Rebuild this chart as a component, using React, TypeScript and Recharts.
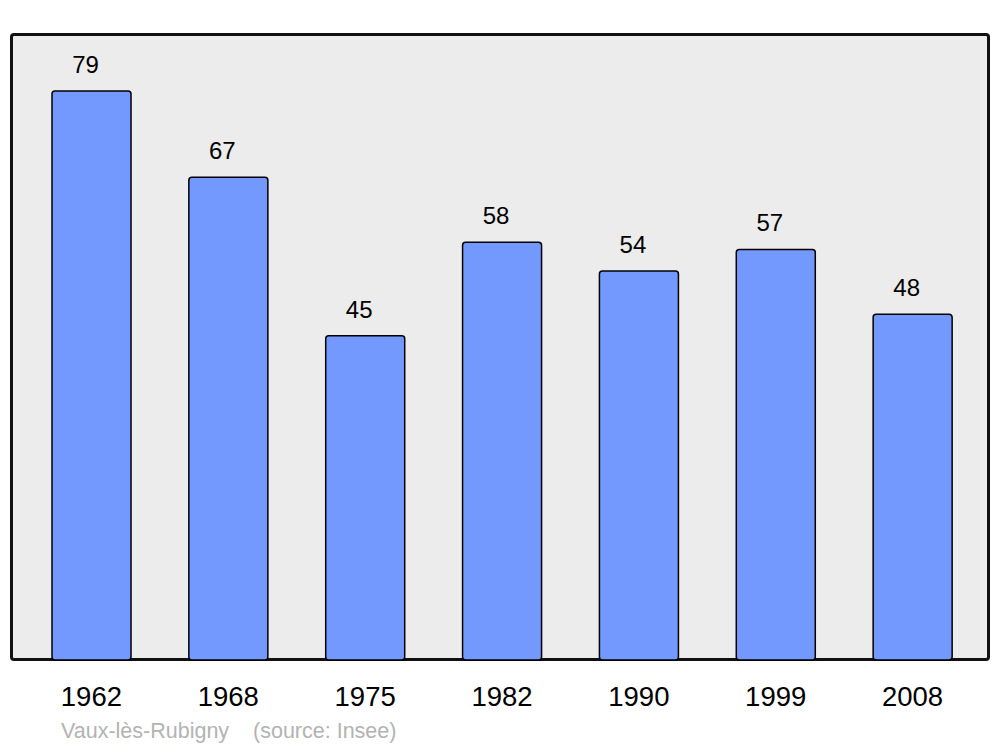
import React from 'react';
import { BarChart, Bar, XAxis, YAxis, LabelList } from 'recharts';

const years = ['1962', '1968', '1975', '1982', '1990', '1999', '2008'];
const population = [79, 67, 45, 58, 54, 57, 48];
const placeName = 'Vaux-lès-Rubigny';
const sourceNote = '(source: Insee)';

const data = years.map((year, i) => ({ year, population: population[i] }));

const FONT = '"Liberation Sans", Arial, sans-serif';

const App: React.FC = () => {
  return (
    <div style={{ position: 'absolute', left: 0, top: 0, width: 1000, height: 747, background: '#fff', fontFamily: FONT }}>
      {/* plot frame */}
      <div
        style={{
          position: 'absolute', left: 10, top: 33, width: 980, height: 628, boxSizing: 'border-box',
          background: '#ececec', border: '3px solid #111', borderRadius: 4,
        }}
      />
      <div style={{ position: 'absolute', left: 0, top: 0 }}>
        <BarChart
          width={1000}
          height={747}
          data={data}
          margin={{ top: 34, right: 11, left: 11, bottom: 57 }}
          barSize={79}
        >
          <XAxis
            dataKey="year"
            height={30}
            axisLine={false}
            tickLine={false}
            padding={{ left: 12, right: 8 }}
            tick={{ fill: '#000', fontSize: 27.5, fontFamily: FONT }}
            tickMargin={20}
          />
          <YAxis hide domain={[0, 86.9]} />
          <Bar
            dataKey="population"
            fill="#7399ff"
            stroke="#000"
            strokeWidth={1.5}
            radius={3}
            isAnimationActive={false}
          >
            <LabelList
              dataKey="population"
              position="top"
              offset={18}
              dx={-6}
              style={{ fill: '#000', fontSize: 24, fontFamily: FONT }}
            />
          </Bar>
        </BarChart>
      </div>
      <div
        style={{
          position: 'absolute', left: 61, top: 721, fontSize: 21.5, lineHeight: '21px',
          color: '#b3b3b3', whiteSpace: 'pre', fontFamily: FONT,
        }}
      >
        {placeName}    {sourceNote}
      </div>
    </div>
  );
};

export default App;
